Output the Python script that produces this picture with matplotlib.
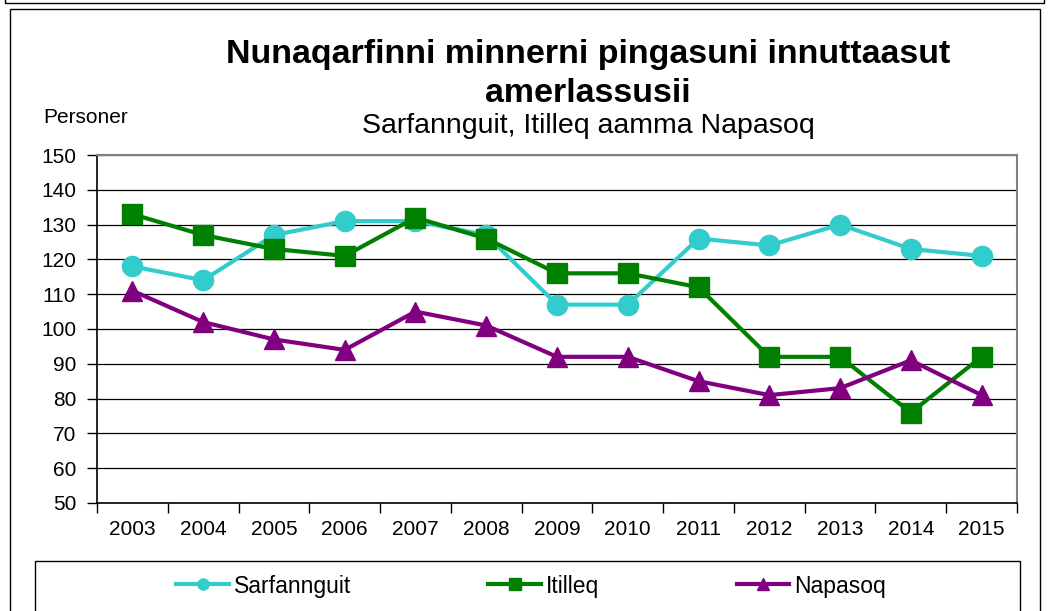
import matplotlib
matplotlib.use("Agg")
import matplotlib.pyplot as plt
from matplotlib.lines import Line2D
from matplotlib.patches import Rectangle

plt.rcParams['font.family'] = ['Liberation Sans', 'DejaVu Sans']

years = ['2003', '2004', '2005', '2006', '2007', '2008', '2009',
         '2010', '2011', '2012', '2013', '2014', '2015']
sarfannguit = [118, 114, 127, 131, 131, 127, 107, 107, 126, 124, 130, 123, 121]
itilleq = [133, 127, 123, 121, 132, 126, 116, 116, 112, 92, 92, 76, 92]
napasoq = [111, 102, 97, 94, 105, 101, 92, 92, 85, 81, 83, 91, 81]

series = [
    ("Sarfannguit", sarfannguit, '#33CCCC', 'o'),
    ("Itilleq", itilleq, '#008000', 's'),
    ("Napasoq", napasoq, '#800080', '^'),
]

W, H = 1051, 611
fig = plt.figure(figsize=(W / 100, H / 100), dpi=100)


def fx(px):
    return px / W


def fy(py):
    return 1 - py / H


# outer frames (box above + chart frame)
fig.add_artist(Rectangle((fx(5), fy(3)), fx(1044) - fx(5), 0.1,
                         transform=fig.transFigure, fill=False, ec='black', lw=1))
fig.add_artist(Rectangle((fx(10), -0.1), fx(1040) - fx(10), fy(9) + 0.1,
                         transform=fig.transFigure, fill=False, ec='black', lw=1))

ax = fig.add_axes([fx(97), fy(503), fx(1017) - fx(97), fy(155) - fy(503)])
x = list(range(len(years)))
for name, vals, col, mk in series:
    ax.plot(x, vals, color=col, lw=3, marker=mk, markersize=14.5, label=name, zorder=3)

ax.set_xlim(-0.5, len(years) - 0.5)
ax.set_ylim(50, 150)
ax.set_yticks(range(50, 151, 10))
ax.yaxis.grid(True, color='black', lw=0.9)
ax.set_axisbelow(True)

ax.set_xticks([i - 0.5 for i in range(len(years) + 1)])
ax.set_xticklabels([])
ax.set_xticks(x, minor=True)
ax.set_xticklabels(years, minor=True)
ax.tick_params(axis='x', which='minor', length=0, pad=12, labelsize=15)
ax.tick_params(axis='x', which='major', length=7, width=1, direction='out')
ax.tick_params(axis='y', length=7, width=1, direction='out', pad=8, labelsize=15)

for s in ['top', 'right']:
    ax.spines[s].set_color('#808080')
    ax.spines[s].set_linewidth(1.5)
for s in ['left', 'bottom']:
    ax.spines[s].set_color('black')
    ax.spines[s].set_linewidth(1.2)

# titles
cx = fx(588)
fig.text(cx, fy(63), "Nunaqarfinni minnerni pingasuni innuttaasut", ha='center',
         va='baseline', fontsize=24.5, fontweight='bold')
fig.text(cx, fy(102), "amerlassusii", ha='center', va='baseline',
         fontsize=24.5, fontweight='bold')
fig.text(cx, fy(133), "Sarfannguit, Itilleq aamma Napasoq", ha='center',
         va='baseline', fontsize=20.5)
fig.text(fx(43), fy(123), "Personer", ha='left', va='baseline', fontsize=15)

# legend box
fig.add_artist(Rectangle((fx(35), -0.1), fx(1020) - fx(35), fy(561) + 0.1,
                         transform=fig.transFigure, fill=False, ec='black', lw=1))
handles = [Line2D([], [], color=col, lw=3, marker=mk, markersize=8)
           for name, vals, col, mk in series]
fig.legend(handles, [s[0] for s in series], loc='center',
           bbox_to_anchor=(fx(531), fy(586)), ncol=3, frameon=False,
           fontsize=16.5, handlelength=2.3, handletextpad=0.2, columnspacing=6.0)

fig.savefig("out.png", dpi=100)
